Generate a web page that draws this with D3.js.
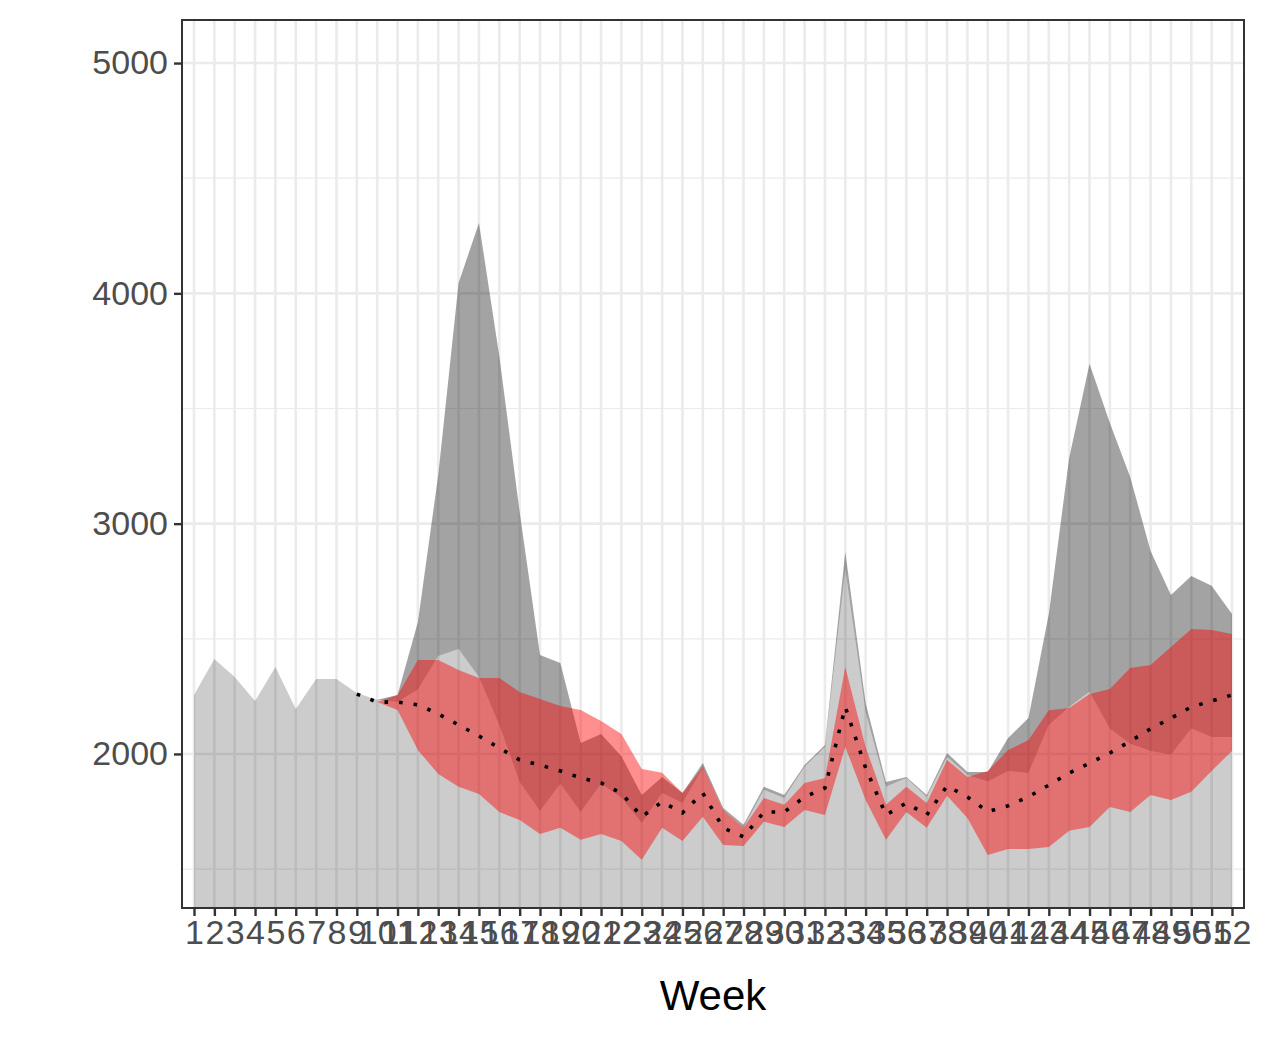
<!DOCTYPE html>
<html><head><meta charset="utf-8">
<script src="https://cdn.jsdelivr.net/npm/d3@7"></script>
<style>body{margin:0;background:#fff}</style></head>
<body><svg id="c" width="1268" height="1043"></svg>
<script>
const weeks = d3.range(1,53);
const observed = [2256,2412,2334,2230,2378,2195,2325,2325,2265,2235,2225,2280,2425,2456,2334,2126,1878,1752,1870,1748,1870,1810,1700,1830,1787,1939,1757,1679,1844,1809,1944,2030,2800,2180,1857,1896,1813,1987,1909,1880,1926,1917,2126,2204,2270,2109,2044,2013,1996,2110,2073,2073];
const upper = [2256,2412,2334,2230,2378,2195,2325,2325,2265,2235,2256,2573,3211,4045,4306,3728,3051,2430,2395,2048,2087,1990,1822,1900,1830,1961,1765,1692,1857,1822,1952,2039,2877,2221,1878,1900,1822,2004,1922,1922,2069,2156,2608,3285,3694,3437,3203,2881,2690,2773,2730,2608];
const predWeeks = d3.range(10,53);
const predHi = [2225,2256,2408,2408,2365,2330,2330,2269,2239,2208,2191,2143,2087,1935,1918,1830,1944,1757,1679,1809,1779,1874,1896,2378,2030,1779,1857,1787,1974,1900,1926,2017,2060,2190,2200,2260,2282,2373,2386,2464,2543,2538,2521];
const predLo = [2225,2191,2017,1913,1857,1826,1748,1713,1652,1679,1627,1652,1622,1540,1679,1622,1727,1605,1600,1705,1683,1757,1735,2030,1800,1627,1748,1679,1818,1722,1561,1587,1587,1596,1666,1683,1770,1748,1822,1800,1836,1926,2013];
const medWeeks = d3.range(9,53);
const median = [2260,2225,2225,2213,2174,2126,2078,2026,1974,1952,1926,1896,1874,1830,1727,1792,1744,1830,1679,1640,1748,1748,1813,1852,2204,1939,1735,1787,1735,1861,1813,1750,1775,1814,1865,1917,1960,2004,2055,2109,2155,2204,2230,2256];
const yTicks = [2000,3000,4000,5000];
const yMinor = [1500,2500,3500,4500];

const svg = d3.select('#c');
const L=182,R=1244,T=20,B=908;
const x = d3.scaleLinear().domain([0.41,52.59]).range([L,R]);
const y = d3.scaleLinear().domain([1331,5187]).range([B,T]);
const g = svg.append('g');
g.selectAll('.mi').data(yMinor).join('line').attr('x1',L).attr('x2',R).attr('y1',d=>y(d)).attr('y2',d=>y(d)).attr('stroke','#ebebeb').attr('stroke-width',1.2);
g.selectAll('.ma').data(yTicks).join('line').attr('x1',L).attr('x2',R).attr('y1',d=>y(d)).attr('y2',d=>y(d)).attr('stroke','#ebebeb').attr('stroke-width',2.6);
g.selectAll('.vx').data(weeks).join('line').attr('y1',T).attr('y2',B).attr('x1',d=>x(d)).attr('x2',d=>x(d)).attr('stroke','#ebebeb').attr('stroke-width',2.6);

const idx = weeks.map((w,i)=>i);
g.append('path').datum(idx).attr('fill','black').attr('fill-opacity',0.2)
 .attr('d',d3.area().x(i=>x(weeks[i])).y0(B).y1(i=>y(observed[i])));
g.append('path').datum(idx).attr('fill','black').attr('fill-opacity',0.36)
 .attr('d',d3.area().x(i=>x(weeks[i])).y0(i=>y(observed[i])).y1(i=>y(upper[i])));
g.append('path').datum(predWeeks.map((w,i)=>i)).attr('fill','#ff0000').attr('fill-opacity',0.44)
 .attr('d',d3.area().x(i=>x(predWeeks[i])).y0(i=>y(predLo[i])).y1(i=>y(predHi[i])));
g.append('path').datum(medWeeks.map((w,i)=>i)).attr('fill','none').attr('stroke','#000').attr('stroke-width',3.6).attr('stroke-dasharray','3.6,11')
 .attr('d',d3.line().x(i=>x(medWeeks[i])).y(i=>y(median[i])));

svg.append('rect').attr('x',L).attr('y',T).attr('width',R-L).attr('height',B-T).attr('fill','none').attr('stroke','#333').attr('stroke-width',2);

const ya = svg.append('g').attr('transform',`translate(${L},0)`).call(d3.axisLeft(y).tickValues(yTicks).tickFormat(d3.format('d')).tickSize(8).tickPadding(6));
const xa = svg.append('g').attr('transform',`translate(0,${B})`).call(d3.axisBottom(x).tickValues(weeks).tickFormat(d3.format('d')).tickSize(8).tickPadding(4));
[ya,xa].forEach(a=>{a.select('.domain').remove();a.selectAll('line').attr('stroke','#333').attr('stroke-width',2.4);
 a.selectAll('text').attr('fill','#4d4d4d').style('font-family','Arial, Liberation Sans, sans-serif').style('font-size','34px');});
svg.append('text').attr('x',(L+R)/2+0).attr('y',1010).attr('text-anchor','middle').style('font-family','Arial, Liberation Sans, sans-serif').style('font-size','42px').attr('fill','#000').text('Week');
</script></body></html>
